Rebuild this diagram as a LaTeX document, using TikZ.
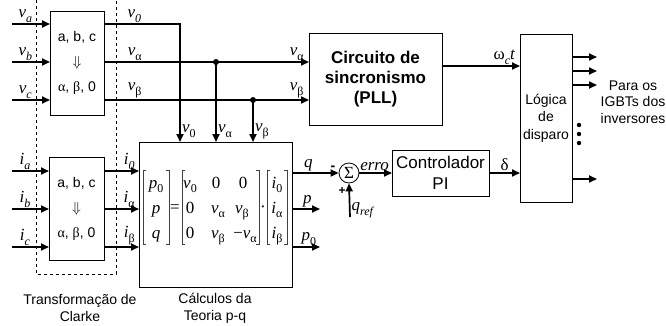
\documentclass[tikz,border=0pt]{standalone}
\usepackage{amsmath}
\usepackage{fontspec}
\setmainfont{Liberation Sans}
\newfontfamily\tms{Liberation Serif}
\usetikzlibrary{arrows.meta,positioning,calc}
% italic symbol with italic / upright subscript
\newcommand{\lab}[2]{\textit{#1}\raisebox{-0.28em}{\fontsize{12}{12}\selectfont\itshape #2}}
\newcommand{\labg}[2]{\textit{#1}\raisebox{-0.28em}{\fontsize{12}{12}\selectfont\upshape #2}}

\begin{document}
\begin{tikzpicture}[x=1pt, y=-1pt,
  box/.style={draw, line width=0.8pt, align=center, inner sep=0pt, outer sep=0pt, font=\fontsize{14}{25}\selectfont},
  sig/.style={line width=1.7pt, -{Triangle[length=8pt,width=7pt]}},
  lbl/.style={font=\fontsize{17}{19}\selectfont\tms, inner sep=1pt},
  ent/.style={anchor=base, inner sep=0pt, font=\fontsize{17}{19}\selectfont\tms},
  brk/.style={line width=0.7pt, black!75},
  capt/.style={align=center, font=\fontsize{14}{17}\selectfont}]
\useasboundingbox (0,0) rectangle (666,325);
% blocks
\node[box, minimum width=54, minimum height=104] (clarkeV) at (77,63) {a, b, c\\$\Downarrow$\\{\tms α}, {\tms β}, 0};
\node[box, minimum width=55, minimum height=103] (clarkeI) at (76.5,208.5) {a, b, c\\$\Downarrow$\\{\tms α}, {\tms β}, 0};
\node[box, minimum width=153, minimum height=145] (calc) at (215.5,214.5) {};
\node[box, minimum width=133, minimum height=92, font=\fontsize{17}{20}\selectfont\bfseries] (pll) at (375.5,79) {Circuito de\\sincronismo\\(PLL)};
\node[box, minimum width=97, minimum height=46, font=\fontsize{17}{21}\selectfont] (pi) at (440.5,173) {Controlador\\PI};
\node[box, minimum width=52, minimum height=168, font=\fontsize{14}{17.5}\selectfont] (logic) at (546,118) {Lógica\\de\\disparo};
\node[draw, circle, line width=0.8pt, minimum size=20, inner sep=0pt, font=\fontsize{17}{18}\selectfont\tms] (sum) at (349,173) {Σ};
\draw[dashed, line width=0.6pt] (36,0) -- (36,274) -- (116,274) -- (116,0);
% p-q equation
\foreach \x/\y/\t [count=\n] in {156/188/{\labg{p}{0}}, 156/213/{\textit{p}}, 156/238/{\textit{q}},
    190/188/{\labg{v}{0}}, 216/188/0, 243/188/0,
    190/213/0, 218/213/{\labg{v}{α}}, 242/213/{\labg{v}{β}},
    190/238/0, 218/238/{\labg{v}{β}}, 245/238/{−\labg{v}{α}},
    277/188/{\labg{i}{0}}, 277/213/{\labg{i}{α}}, 277/238/{\labg{i}{β}}}
  \node[ent] (e\n) at (\x,\y) {\t};
\node[ent] (eq) at (175,212) {=};
\node[ent] (dot) at (263,212) {·};
\foreach \l/\r in {143/169, 182/259, 267/287} {
  \draw[brk] (\l+3,170) -- (\l,170) -- (\l,244) -- (\l+3,244);
  \draw[brk] (\r-3,170) -- (\r,170) -- (\r,244) -- (\r-3,244);
}
% inputs
\coordinate (va) at (12,24);
\coordinate (vb) at (12,62);
\coordinate (vc) at (12,100);
\coordinate (ia) at (12,171);
\coordinate (ib) at (12,209);
\coordinate (ic) at (12,247);
\draw[sig] (va) -- node[lbl, above, pos=0.35]{\lab{v}{a}} (va -| clarkeV.west);
\draw[sig] (vb) -- node[lbl, above, pos=0.35]{\lab{v}{b}} (vb -| clarkeV.west);
\draw[sig] (vc) -- node[lbl, above, pos=0.35]{\lab{v}{c}} (vc -| clarkeV.west);
\draw[sig] (ia) -- node[lbl, above, pos=0.35]{\lab{i}{a}} (ia -| clarkeI.west);
\draw[sig] (ib) -- node[lbl, above, pos=0.35]{\lab{i}{b}} (ib -| clarkeI.west);
\draw[sig] (ic) -- node[lbl, above, pos=0.35]{\lab{i}{c}} (ic -| clarkeI.west);
% voltages to PLL and p-q block
\coordinate (t0) at (180,0);
\coordinate (ta) at (216,0);
\coordinate (tb) at (253,0);
\draw[sig] (clarkeV.east |- va) -- node[lbl, above, pos=0.4]{\lab{v}{0}} (t0 |- va) -- (t0 |- calc.north);
\draw[sig] (clarkeV.east |- vb) -- node[lbl, above, pos=0.15]{\labg{v}{α}} node[lbl, above, pos=0.94]{\labg{v}{α}} (pll.west |- vb);
\draw[sig] (clarkeV.east |- vc) -- node[lbl, above, pos=0.15]{\labg{v}{β}} node[lbl, above, pos=0.94]{\labg{v}{β}} (pll.west |- vc);
\fill (ta |- vb) circle (3);
\fill (tb |- vc) circle (3);
\draw[sig] (ta |- vb) -- (ta |- calc.north);
\draw[sig] (tb |- vc) -- (tb |- calc.north);
\node[lbl, right] at (181,131) {\labg{v}{0}};
\node[lbl, right] at (217,131) {\labg{v}{α}};
\node[lbl, right] at (254,131) {\labg{v}{β}};
% currents
\draw[sig] (clarkeI.east |- ia) -- node[lbl, above, pos=0.72]{\lab{i}{0}} (calc.west |- ia);
\draw[sig] (clarkeI.east |- ib) -- node[lbl, above, pos=0.72]{\labg{i}{α}} (calc.west |- ib);
\draw[sig] (clarkeI.east |- ic) -- node[lbl, above, pos=0.72]{\labg{i}{β}} (calc.west |- ic);
% outputs of p-q block
\coordinate (po) at (320,247);
\coordinate (pp) at (320,209);
\draw[sig] (calc.east |- sum) -- node[lbl, above, pos=0.35]{\textit{q}} (sum.west);
\draw[sig] (calc.east |- pp) -- node[lbl, above, pos=0.55]{\textit{p}} (pp);
\draw[sig] (calc.east |- po) -- node[lbl, above, pos=0.6]{\labg{p}{0}} (po);
\node[font=\fontsize{14}{15}\selectfont\bfseries, inner sep=0pt, anchor=base] at (333,170) {-};
\node[font=\fontsize{12}{14}\selectfont\bfseries, inner sep=0pt] at (342,191) {+};
\coordinate (qref) at (350,217);
\draw[sig] (qref) -- node[lbl, right, pos=0.2]{\lab{q}{ref}} (sum.south);
\draw[sig] (sum.east) -- node[lbl, above right, pos=0, inner sep=0pt, yshift=1pt]{\textit{erro}} (pi.west);
\draw[sig] (pi.east) -- node[lbl, above]{δ} (pi.east -| logic.west);
\draw[sig] (pll.east |- 0,66) -- node[lbl, above, pos=0.8]{ω\raisebox{-0.28em}{\fontsize{12}{12}\selectfont\itshape c}\textit{t}} (logic.west |- 0,66);
% firing signals
\foreach \y in {57,71,85,179}
  \draw[sig] (logic.east |- 0,\y) -- ++(25,0);
\foreach \y in {125,134,143}
  \fill (579,\y) circle (2.2);
\node[capt, font=\fontsize{14}{16.5}\selectfont] (igbt) at (633,102) {Para os\\IGBTs dos\\inversores};
% captions
\node[capt] (capC) at (80,308) {Transformação de\\Clarke};
\node[capt] (capQ) at (215,308) {Cálculos da\\Teoria p-q};
\end{tikzpicture}
\end{document}
